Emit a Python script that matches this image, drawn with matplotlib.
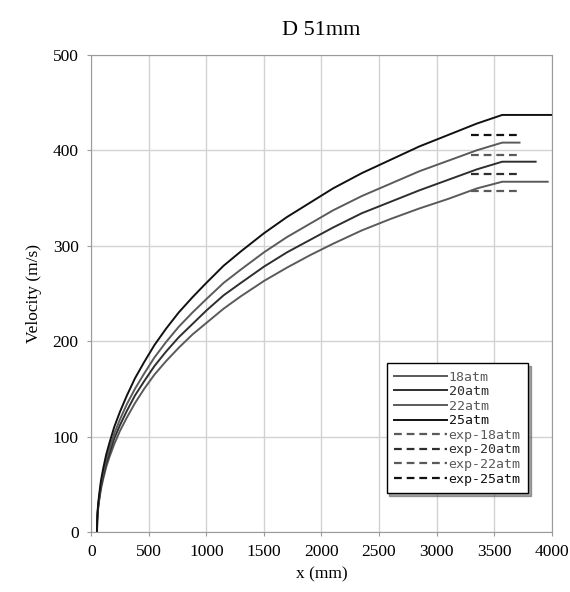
import matplotlib
matplotlib.use("Agg")
import matplotlib.pyplot as plt

# position along the barrel (mm), shared by the simulated curves
x_sim = [50, 52, 55, 60, 70, 85, 105, 130, 160, 200, 250, 310, 380, 460,
         550, 650, 760, 880, 1000, 1150, 1300, 1500, 1700, 1900, 2100,
         2350, 2600, 2850, 3100, 3350, 3570]

# simulated velocity (m/s)
v_18 = [0, 11, 17, 24, 34, 45, 56, 68, 79, 92, 106, 120, 135, 150,
        165, 179, 193, 207, 219, 234, 247, 263, 277, 290, 302,
        316, 328, 339, 349, 360, 367]
v_20 = [0, 12, 18, 26, 35, 48, 59, 72, 83, 98, 112, 127, 143, 158,
        174, 189, 204, 218, 232, 248, 261, 278, 293, 306, 319,
        334, 346, 358, 369, 380, 388]
v_22 = [0, 12, 19, 27, 37, 50, 63, 76, 88, 103, 118, 134, 150, 166,
        183, 199, 215, 230, 244, 261, 275, 293, 309, 323, 337,
        352, 365, 378, 389, 400, 408]
v_25 = [0, 13, 20, 29, 40, 54, 67, 81, 94, 110, 126, 143, 161, 178,
        196, 213, 230, 246, 261, 279, 294, 313, 330, 345, 360,
        376, 390, 404, 416, 428, 437]

# where each curve's flat tail ends (mm)
x_end = [3965, 3860, 3720, 4000]

# measured muzzle velocities (m/s) and the span they are drawn over
exp_x = [3300, 3700]
exp_v = [357, 375, 395, 416]

labels = ["18atm", "20atm", "22atm", "25atm"]
colors = ["#5a5a5a", "#2e2e2e", "#5a5a5a", "#111111"]

fig = plt.figure(figsize=(5.70, 5.92), dpi=100)
ax = fig.add_axes([0.16, 0.1014, 0.808, 0.806])

sims = [v_18, v_20, v_22, v_25]
for v, xe, lab, c in zip(sims, x_end, labels, colors):
    xs = x_sim + [xe]
    vs = v + [v[-1]]
    ax.plot(xs, vs, color=c, lw=1.4, label=lab)

for ve, lab, c in zip(exp_v, labels, colors):
    ax.plot(exp_x, [ve, ve], color=c, lw=1.6, ls=(0, (3.5, 2.2)),
            label="exp-" + lab)

ax.set_xlim(0, 4000)
ax.set_ylim(0, 500)
ax.set_xticks(range(0, 4001, 500))
ax.set_yticks(range(0, 501, 100))
ax.grid(True, color="#d2d2d2", lw=1.0)
ax.set_axisbelow(True)
for s in ax.spines.values():
    s.set_color("#9a9a9a")
ax.tick_params(direction="out", length=3, color="#9a9a9a",
               labelsize=12.5, pad=6)
for t in ax.get_xticklabels() + ax.get_yticklabels():
    t.set_fontfamily("Liberation Serif")

ax.set_xlabel("x (mm)", family="Liberation Serif", fontsize=12.5, labelpad=4)
ax.set_ylabel("Velocity (m/s)", family="Liberation Serif", fontsize=12.5,
              labelpad=8)
ax.set_title("D 51mm", family="Liberation Serif", fontsize=16, pad=14)

leg = ax.legend(loc="lower right", bbox_to_anchor=(0.948, 0.082),
                borderaxespad=0, prop={"family": "DejaVu Sans Mono", "size": 9.5},
                handlelength=4.0, handletextpad=0.15, labelspacing=0.12,
                borderpad=0.55, fancybox=False, shadow=True, framealpha=1)
leg.get_frame().set_edgecolor("black")
leg.get_frame().set_linewidth(1.0)
for t, c in zip(leg.get_texts(), colors + colors):
    t.set_color(c)

fig.savefig("out.png", dpi=100)
